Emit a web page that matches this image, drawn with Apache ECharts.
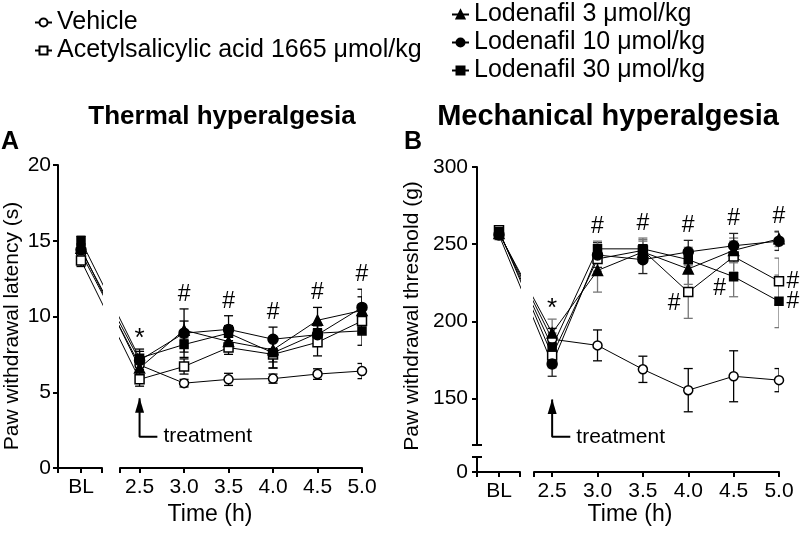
<!DOCTYPE html>
<html><head><meta charset="utf-8">
<script src="https://cdn.jsdelivr.net/npm/echarts@6/dist/echarts.min.js"></script>
<style>html,body{margin:0;padding:0;background:#fff}#c{width:800px;height:534px}</style>
</head><body><div id="c"></div>
<script>
// ---------- DATA ----------
const times = [2.5, 3.0, 3.5, 4.0, 4.5, 5.0];
const baselineLabel = 'BL';
const groupNames = ['Vehicle', 'Acetylsalicylic acid 1665 μmol/kg', 'Lodenafil 3 μmol/kg', 'Lodenafil 10 μmol/kg', 'Lodenafil 30 μmol/kg'];

// Thermal hyperalgesia, paw withdrawal latency (s): [BL, 2.5, 3.0, 3.5, 4.0, 4.5, 5.0]
const thermalVehicle    = [14.2, 6.8, 5.6, 5.85, 5.9, 6.2, 6.4];
const thermalVehicleErr = [0.4, 0.5, 0.25, 0.4, 0.3, 0.35, 0.5];
const thermalASA        = [13.7, 5.85, 6.7, 7.95, 7.5, 8.3, 9.7];
const thermalASAErr     = [0.4, 0.45, 0.5, 0.45, 0.9, 0.9, 0.8];
const thermalL3         = [14.5, 6.6, 9.1, 8.35, 7.8, 9.75, 10.4];
const thermalL3Err      = [0.3, 0.5, 0.6, 0.5, 0.8, 0.85, 0.9];
const thermalL10        = [14.4, 7.1, 8.9, 9.15, 8.5, 8.8, 10.6];
const thermalL10Err     = [0.3, 0.6, 1.6, 0.9, 0.8, 0.6, 1.2];
const thermalL30        = [15.0, 7.25, 8.15, 8.9, 7.6, 8.9, 9.05];
const thermalL30Err     = [0.3, 0.6, 0.5, 0.5, 1.0, 0.5, 0.95];

// Mechanical hyperalgesia, paw withdrawal threshold (g)
const mechVehicle    = [257.5, 188.5, 184.5, 169, 155.5, 164.5, 162];
const mechVehicleErr = [3, 7, 10, 8.5, 14, 16.5, 7.5];
const mechASA        = [259, 178, 240.5, 246, 219, 242, 226];
const mechASAErr     = [3, 8, 8, 7, 17, 10, 15];
const mechL3         = [257, 192.5, 233, 245, 234, 246, 253.5];
const mechL3Err      = [3, 9, 14, 7, 10, 8, 5];
const mechL10        = [256, 172.5, 243, 240, 245, 249, 252];
const mechL10Err     = [3, 8, 8, 9, 7.5, 8, 6];
const mechL30        = [258, 183.5, 247, 247, 240, 229, 213];
const mechL30Err     = [3, 9, 5, 7, 8, 13, 17];

const thermalTicks = [0, 5, 10, 15, 20];
const mechTicks = [0, 150, 200, 250, 300];

// significance marks
const sigTopThermal = ['*', '#', '#', '#', '#', '#'];
const sigTopMech    = ['*', '#', '#', '#', '#', '#'];
// [time, group index, side]
const sigSideMech = [[4.0, 1, 'lowerLeft'], [4.5, 4, 'lowerLeft'], [5.0, 1, 'right'], [5.0, 4, 'right']];

// treatment arrow [tip value, elbow value]
const treatmentThermal = [4.6, 2.07];
const treatmentMech = [149.5, 125.3];

// ---------- STYLE / LAYOUT ----------
const FONT = "'Liberation Sans', Arial, Helvetica, sans-serif";
const groupStyles = [
  {symbol: 'circle', size: 9, fill: false},
  {symbol: 'rect', size: 9, fill: false},
  {symbol: 'triangle', size: 10, fill: true},
  {symbol: 'circle', size: 10, fill: true},
  {symbol: 'rect', size: 8, fill: true}
];

const option = {animation: false, backgroundColor: '#fff', textStyle: {fontFamily: FONT, color: '#000'},
  grid: [], xAxis: [], yAxis: [], series: [], graphic: [], legend: []};
function addGrid(g) { option.grid.push(Object.assign({show: false, containLabel: false}, g)); return option.grid.length - 1; }
function addX(a) { option.xAxis.push(Object.assign({type: 'value', position: 'bottom', splitLine: {show: false}}, a)); return option.xAxis.length - 1; }
function addY(a) { option.yAxis.push(Object.assign({type: 'value', position: 'left', splitLine: {show: false}}, a)); return option.yAxis.length - 1; }

const AX_LINE = {show: true, onZero: false, lineStyle: {color: '#000', width: 2}};
const tickOut = (vals) => ({show: true, inside: false, length: 5, lineStyle: {color: '#000', width: 2}, customValues: vals});
const LABEL = {color: '#000', fontFamily: FONT, fontSize: 21};
const HIDDEN_ITEM = {color: 'rgba(0,0,0,0)', opacity: 1};

function geometry(p) {
  const pxPerH = (p.seg2End - p.seg2Start) / (p.tMax - p.tMin);
  const x25 = p.seg2Start + (times[0] - p.tMin) * pxPerH;
  const vBL = times[0] - (x25 - p.blX) / pxPerH;
  return {vBL, blMin: vBL - (p.blX - p.axisX) / pxPerH, blMax: vBL + (p.seg1End - p.blX) / pxPerH};
}

function xAxesPair(gBL, gT, p, geo, show) {
  if (!show) {
    return [addX({gridIndex: gBL, min: geo.blMin, max: geo.blMax, show: false}),
            addX({gridIndex: gT, min: p.tMin, max: p.tMax, show: false})];
  }
  const xb = addX({gridIndex: gBL, min: geo.blMin, max: geo.blMax, axisLine: AX_LINE,
    axisTick: tickOut([geo.blMin, geo.vBL, geo.blMax]),
    axisLabel: Object.assign({}, LABEL, {margin: 9, customValues: [geo.vBL], formatter: () => baselineLabel})});
  const xt = addX({gridIndex: gT, min: p.tMin, max: p.tMax, axisLine: AX_LINE,
    axisTick: tickOut([p.tMin].concat(times)),
    axisLabel: Object.assign({}, LABEL, {margin: 9, customValues: times, formatter: v => v.toFixed(1)})});
  return [xb, xt];
}

function errSeries(xi, yi, data, color) {
  return {type: 'custom', xAxisIndex: xi, yAxisIndex: yi, data: data, z: 2, silent: true, clip: true,
    encode: {x: 0, y: 1},
    renderItem: (params, api) => {
      const x = api.value(0), v = api.value(1), e = api.value(2);
      const hi = api.coord([x, v + e]), lo = api.coord([x, v - e]);
      const w = 4.5, st = {stroke: color, lineWidth: 1.3};
      return {type: 'group', children: [
        {type: 'line', shape: {x1: hi[0], y1: hi[1], x2: lo[0], y2: lo[1]}, style: st},
        {type: 'line', shape: {x1: hi[0] - w, y1: hi[1], x2: hi[0] + w, y2: hi[1]}, style: st},
        {type: 'line', shape: {x1: lo[0] - w, y1: lo[1], x2: lo[0] + w, y2: lo[1]}, style: st}
      ]};
    }};
}

function addGroups(axes, geo, groups, errColors) {
  groups.forEach((g, gi) => {
    const sty = groupStyles[gi];
    const vals = g[0], errs = g[1];
    const blPt = [geo.vBL, vals[0]];
    const pts = [blPt].concat(times.map((t, i) => [t, vals[i + 1]]));
    const common = {type: 'line', name: groupNames[gi], symbol: sty.symbol, symbolSize: sty.size, showSymbol: true,
      clip: true, z: 3, silent: true,
      lineStyle: {color: '#000', width: 1},
      itemStyle: {color: sty.fill ? '#000' : '#fff', borderColor: '#000', borderWidth: 1.5}};
    option.series.push(Object.assign({}, common, {xAxisIndex: axes.xBL, yAxisIndex: axes.yBL, data: [blPt, pts[1]]}));
    option.series.push(Object.assign({}, common, {xAxisIndex: axes.xT, yAxisIndex: axes.yT, data: pts}));
    option.series.push(errSeries(axes.xBL, axes.yBL, [[geo.vBL, vals[0], errs[0]]], errColors[gi]));
    option.series.push(errSeries(axes.xT, axes.yT, times.map((t, i) => [t, vals[i + 1], errs[i + 1]]), errColors[gi]));
  });
}

function addSigTop(axes, groups, marks) {
  const data = times.map((t, i) => {
    const top = Math.max.apply(null, groups.map(g => g[0][i + 1] + g[1][i + 1]));
    const star = marks[i] === '*';
    return {value: [t, top], name: marks[i], label: {distance: star ? -3 : 3, fontSize: star ? 26 : 23}};
  });
  option.series.push({type: 'scatter', xAxisIndex: axes.xT, yAxisIndex: axes.yT, data: data, symbolSize: 0.1,
    itemStyle: HIDDEN_ITEM, silent: true, z: 5,
    label: {show: true, position: 'top', formatter: '{b}', color: '#000', opacity: 1, fontFamily: FONT}});
}

function addArrow(axes, arrow) {
  option.series.push({type: 'line', xAxisIndex: axes.xT, yAxisIndex: axes.yT, silent: true, z: 4,
    lineStyle: {color: '#000', width: 2}, itemStyle: {color: '#000'},
    data: [
      {value: [times[0], arrow[0]], symbol: 'triangle', symbolSize: [9, 15], symbolOffset: [0, 7]},
      {value: [times[0], arrow[1]], symbol: 'none'},
      {value: [times[0] + 0.2, arrow[1]], symbol: 'none'}
    ]});
  option.series.push({type: 'scatter', xAxisIndex: axes.xT, yAxisIndex: axes.yT, silent: true, z: 4,
    symbolSize: 0.1, itemStyle: HIDDEN_ITEM,
    data: [{value: [times[0] + 0.2, arrow[1]], name: 'treatment'}],
    label: {show: true, position: 'right', distance: 6, formatter: '{b}', color: '#000', opacity: 1, fontFamily: FONT, fontSize: 21}});
}

// ---------- LEFT PANEL ----------
const PL = {axisX: 58, blX: 81, seg1End: 102, seg2Start: 120, seg2End: 362, tMin: 2.28, tMax: 5.0, top: 165, bottom: 468};
const gL = geometry(PL);
const gL0 = addGrid({left: PL.axisX, top: PL.top, width: PL.seg1End - PL.axisX, height: PL.bottom - PL.top});
const gL1 = addGrid({left: PL.seg2Start, top: PL.top, width: PL.seg2End - PL.seg2Start, height: PL.bottom - PL.top});
const [xL0, xL1] = xAxesPair(gL0, gL1, PL, gL, true);
const yL0 = addY({gridIndex: gL0, min: thermalTicks[0], max: thermalTicks[thermalTicks.length - 1], interval: 5,
  axisLine: AX_LINE, axisTick: tickOut(thermalTicks), axisLabel: Object.assign({}, LABEL, {margin: 7, customValues: thermalTicks})});
const yL1 = addY({gridIndex: gL1, min: thermalTicks[0], max: thermalTicks[thermalTicks.length - 1], show: false});
const axesL = {xBL: xL0, xT: xL1, yBL: yL0, yT: yL1};
const thermalGroups = [[thermalVehicle, thermalVehicleErr], [thermalASA, thermalASAErr], [thermalL3, thermalL3Err],
  [thermalL10, thermalL10Err], [thermalL30, thermalL30Err]];
addGroups(axesL, gL, thermalGroups, ['#000', '#000', '#000', '#000', '#000']);
addSigTop(axesL, thermalGroups, sigTopThermal);
addArrow(axesL, treatmentThermal);

// ---------- RIGHT PANEL ----------
const PR = {axisX: 477, blX: 499, seg1End: 520, seg2Start: 534, seg2End: 779, tMin: 2.3, tMax: 5.0, top: 167, bottom: 445, lowTop: 457, lowBottom: 472};
const breakLow = 120, lowMax = 10;
const gR = geometry(PR);
const gR0 = addGrid({left: PR.axisX, top: PR.top, width: PR.seg1End - PR.axisX, height: PR.bottom - PR.top});
const gR1 = addGrid({left: PR.seg2Start, top: PR.top, width: PR.seg2End - PR.seg2Start, height: PR.bottom - PR.top});
const gR2 = addGrid({left: PR.axisX, top: PR.lowTop, width: PR.seg1End - PR.axisX, height: PR.lowBottom - PR.lowTop});
const gR3 = addGrid({left: PR.seg2Start, top: PR.lowTop, width: PR.seg2End - PR.seg2Start, height: PR.lowBottom - PR.lowTop});
const [xR0, xR1] = xAxesPair(gR0, gR1, PR, gR, false);
const [xR2, xR3] = xAxesPair(gR2, gR3, PR, gR, true);
const upTicks = mechTicks.slice(1);
const yR0 = addY({gridIndex: gR0, min: breakLow, max: upTicks[upTicks.length - 1], axisLine: AX_LINE,
  axisTick: tickOut([breakLow].concat(upTicks)), axisLabel: Object.assign({}, LABEL, {margin: 9, customValues: upTicks})});
addY({gridIndex: gR0, min: breakLow, max: upTicks[upTicks.length - 1], axisLine: {show: false},
  axisTick: {show: true, inside: true, length: 5, lineStyle: {color: '#000', width: 2}, customValues: [breakLow]}, axisLabel: {show: false}});
const yR1 = addY({gridIndex: gR1, min: breakLow, max: upTicks[upTicks.length - 1], show: false});
addY({gridIndex: gR2, min: mechTicks[0], max: lowMax, axisLine: AX_LINE,
  axisTick: tickOut([mechTicks[0], lowMax]), axisLabel: Object.assign({}, LABEL, {margin: 9, customValues: [mechTicks[0]]})});
addY({gridIndex: gR2, min: mechTicks[0], max: lowMax, axisLine: {show: false},
  axisTick: {show: true, inside: true, length: 5, lineStyle: {color: '#000', width: 2}, customValues: [lowMax]}, axisLabel: {show: false}});
addY({gridIndex: gR3, min: mechTicks[0], max: lowMax, show: false});
const axesR = {xBL: xR0, xT: xR1, yBL: yR0, yT: yR1};
const mechGroups = [[mechVehicle, mechVehicleErr], [mechASA, mechASAErr], [mechL3, mechL3Err],
  [mechL10, mechL10Err], [mechL30, mechL30Err]];
addGroups(axesR, gR, mechGroups, ['#000', '#777', '#777', '#222', '#777']);
addSigTop(axesR, mechGroups, sigTopMech);
addArrow(axesR, treatmentMech);
option.series.push({type: 'scatter', xAxisIndex: xR1, yAxisIndex: yR1, symbolSize: 0.1, silent: true, z: 5,
  itemStyle: HIDDEN_ITEM,
  data: sigSideMech.map(s => ({value: [s[0], mechGroups[s[1]][0][times.indexOf(s[0]) + 1]], name: '#',
    label: {offset: s[2] === 'right' ? [14, 0] : [-14, 12]}})),
  label: {show: true, position: 'inside', formatter: '{b}', color: '#000', opacity: 1, fontFamily: FONT, fontSize: 23}});

// ---------- LEGENDS ----------
const legendCommon = {orient: 'vertical', selectedMode: false, itemWidth: 17, itemHeight: 10, itemGap: 3,
  textStyle: {fontFamily: FONT, fontSize: 25, color: '#000'}};
option.legend.push(Object.assign({}, legendCommon, {data: groupNames.slice(0, 2), left: 29, top: 5}));
option.legend.push(Object.assign({}, legendCommon, {data: groupNames.slice(2), left: 446, top: -3}));

// ---------- TEXTS ----------
const txt = (text, x, y, font, rot) => ({type: 'text', x: x, y: y, rotation: rot || 0, silent: true,
  style: {text: text, font: font, fill: '#000', align: 'center', verticalAlign: 'middle'}});
option.graphic.push(
  txt('Thermal hyperalgesia', 222, 117, "bold 26px " + FONT),
  txt('Mechanical hyperalgesia', 608, 117, "bold 29px " + FONT),
  txt('A', 10, 142, "bold 25px " + FONT),
  txt('B', 413, 142, "bold 25px " + FONT),
  txt('Paw withdrawal latency (s)', 12, 326, "21px " + FONT, Math.PI / 2),
  txt('Paw withdrawal threshold (g)', 412, 316, "21px " + FONT, Math.PI / 2),
  txt('Time (h)', 210, 515, "23px " + FONT),
  txt('Time (h)', 630, 515, "23px " + FONT)
);

const chart = echarts.init(document.getElementById('c'), null, {renderer: 'canvas'});
chart.setOption(option);
</script></body></html>
